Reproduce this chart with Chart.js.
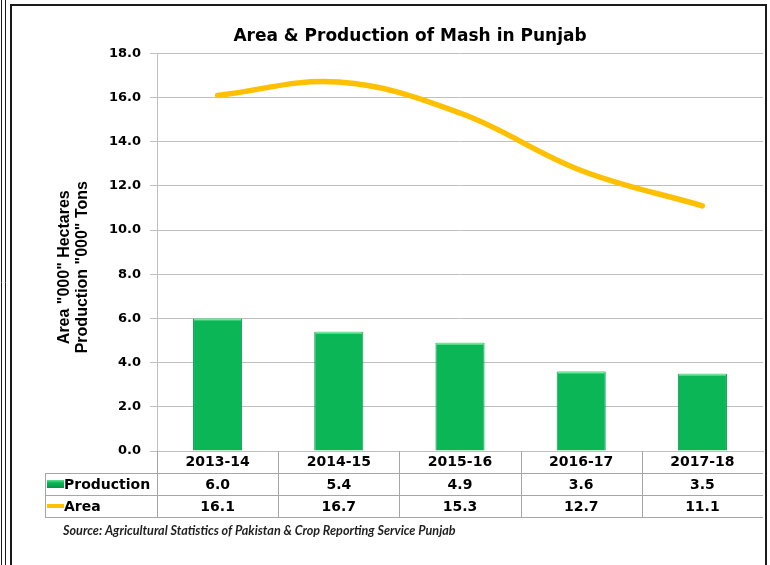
<!DOCTYPE html>
<html>
<head>
<meta charset="utf-8">
<script src="https://cdn.jsdelivr.net/npm/chart.js@4.4.1/dist/chart.umd.min.js"></script>
<style>
  html, body { margin: 0; padding: 0; background: #ffffff; }
  canvas { display: block; }
</style>
</head>
<body>
<canvas id="c" width="770" height="565"></canvas>
<script>
// ---- data ----
const categories = ['2013-14', '2014-15', '2015-16', '2016-17', '2017-18'];
const productionValues = [6.0, 5.4, 4.9, 3.6, 3.5];
const areaValues = [16.1, 16.7, 15.3, 12.7, 11.1];
const seriesNames = ['Production', 'Area'];
const yMin = 0, yMax = 18, yStep = 2;
const titleText = 'Area & Production of Mash in Punjab';
const yTitleLines = ['Area "000" Hectares', 'Production "000" Tons'];
const sourceText = 'Source: Agricultural Statistics of Pakistan & Crop Reporting Service Punjab';

const GREEN = '#0BB656';
const GREEN_EDGE = '#07994A';
const GOLD = '#FFC000';
const GRID = '#BFBFBF';
const TABLE_LINE = '#A6A6A6';

const framePlugin = {
  id: 'frame',
  afterDraw(chart) {
    const ctx = chart.ctx;
    ctx.save();
    ctx.strokeStyle = '#1a1a1a';
    ctx.lineWidth = 1;
    ctx.beginPath();
    ctx.moveTo(1.5, 0); ctx.lineTo(1.5, chart.height);
    ctx.moveTo(5.5, 0); ctx.lineTo(5.5, chart.height);
    ctx.stroke();
    ctx.lineWidth = 2;
    ctx.beginPath();
    ctx.moveTo(11, chart.height);
    ctx.lineTo(11, 5);
    ctx.lineTo(766, 5);
    ctx.lineTo(766, chart.height);
    ctx.stroke();
    ctx.restore();
  }
};

const yTitlePlugin = {
  id: 'yTitle',
  afterDraw(chart) {
    const ctx = chart.ctx;
    const ca = chart.chartArea;
    const cy = (ca.top + ca.bottom) / 2 + 15;
    ctx.save();
    ctx.font = 'bold 16px "Liberation Sans"';
    ctx.fillStyle = '#000';
    ctx.textAlign = 'center';
    ctx.textBaseline = 'middle';
    yTitleLines.forEach((line, i) => {
      ctx.save();
      ctx.translate(65 + i * 18, cy);
      ctx.rotate(-Math.PI / 2);
      ctx.fillText(line, 0, 0);
      ctx.restore();
    });
    ctx.restore();
  }
};

const tablePlugin = {
  id: 'dataTable',
  afterDraw(chart) {
    const ctx = chart.ctx;
    const xs = chart.scales.x;
    const ca = chart.chartArea;
    const n = categories.length;
    const half = (xs.getPixelForValue(1) - xs.getPixelForValue(0)) / 2;
    const rowH = 22;
    const top = ca.bottom;
    const tableLeft = 45;
    const rows = [productionValues, areaValues];
    ctx.save();
    ctx.strokeStyle = TABLE_LINE;
    ctx.lineWidth = 1;
    ctx.beginPath();
    for (let r = 1; r <= rows.length + 1; r++) {
      const y = Math.round(top + rowH * r) + 0.5;
      ctx.moveTo(tableLeft, y); ctx.lineTo(ca.right, y);
    }
    const yEnd = top + rowH * (rows.length + 1);
    ctx.moveTo(tableLeft + 0.5, top + rowH); ctx.lineTo(tableLeft + 0.5, yEnd);
    for (let i = 0; i < n; i++) {
      const xb = Math.round(xs.getPixelForValue(i) - half) + 0.5;
      ctx.moveTo(xb, top); ctx.lineTo(xb, yEnd);
    }
    ctx.stroke();

    ctx.font = 'bold 14px "DejaVu Sans"';
    ctx.textBaseline = 'middle';
    rows.forEach((vals, r) => {
      const yc = top + rowH * (r + 1) + rowH / 2;
      if (r === 0) {
        const g = ctx.createLinearGradient(0, yc - 4, 0, yc + 4);
        g.addColorStop(0, '#5fe08f');
        g.addColorStop(0.35, GREEN);
        g.addColorStop(1, '#079447');
        ctx.fillStyle = g;
        ctx.fillRect(tableLeft + 2, yc - 4, 17, 8);
      } else {
        ctx.strokeStyle = GOLD;
        ctx.lineWidth = 4;
        ctx.beginPath();
        ctx.moveTo(tableLeft + 2, yc); ctx.lineTo(tableLeft + 19, yc);
        ctx.stroke();
      }
      ctx.fillStyle = '#000';
      ctx.textAlign = 'left';
      ctx.fillText(seriesNames[r], tableLeft + 19, yc + 1);
      ctx.textAlign = 'center';
      vals.forEach((v, i) => {
        ctx.fillText(v.toFixed(1), xs.getPixelForValue(i), yc + 1);
      });
    });

    ctx.font = 'italic bold 12.6px Lato';
    ctx.fillStyle = '#1f1f1f';
    ctx.textAlign = 'left';
    ctx.fillText(sourceText, 63, yEnd + 14);
    ctx.restore();
  }
};

const barHighlight = {
  id: 'barHighlight',
  afterDatasetsDraw(chart) {
    const meta = chart.getDatasetMeta(0);
    const ctx = chart.ctx;
    ctx.save();
    meta.data.forEach(el => {
      const w = el.width;
      ctx.fillStyle = 'rgba(120,235,160,0.9)';
      ctx.fillRect(el.x - w / 2 + 1, el.y, w - 2, 2);
    });
    ctx.restore();
  }
};

new Chart(document.getElementById('c'), {
  data: {
    labels: categories,
    datasets: [
      {
        type: 'bar',
        label: seriesNames[0],
        data: productionValues,
        backgroundColor: GREEN,
        borderColor: GREEN_EDGE,
        borderWidth: 1,
        categoryPercentage: 1,
        barPercentage: 0.405,
        order: 2
      },
      {
        type: 'line',
        label: seriesNames[1],
        data: areaValues,
        borderColor: GOLD,
        borderWidth: 5.5,
        borderCapStyle: 'round',
        tension: 0.38,
        pointRadius: 0,
        fill: false,
        order: 1
      }
    ]
  },
  options: {
    responsive: false,
    devicePixelRatio: 1,
    animation: false,
    layout: { padding: { top: 26, left: 57, right: 7, bottom: 0 } },
    plugins: {
      legend: { display: false },
      tooltip: { enabled: false },
      title: {
        display: true,
        text: titleText,
        color: '#000',
        font: { family: '"DejaVu Sans"', weight: 'bold', size: 17 },
        padding: { top: 0, bottom: 7 }
      }
    },
    scales: {
      x: {
        grid: { display: false, drawTicks: false },
        border: { display: true, color: GRID },
        ticks: {
          color: '#000',
          font: { family: '"DejaVu Sans"', weight: 'bold', size: 14 },
          padding: 3,
          maxRotation: 0
        },
        afterFit(scale) { scale.height = 114; }
      },
      y: {
        min: yMin,
        max: yMax,
        ticks: {
          stepSize: yStep,
          color: '#000',
          font: { family: '"DejaVu Sans"', weight: 'bold', size: 13 },
          padding: 9,
          callback: v => Number(v).toFixed(1)
        },
        grid: { color: GRID, tickLength: 7, drawTicks: true, tickColor: GRID },
        border: { display: true, color: GRID },
        title: { display: false },
        afterFit(scale) { scale.width = 100; }
      }
    }
  },
  plugins: [barHighlight, tablePlugin, yTitlePlugin, framePlugin]
});
</script>
</body>
</html>
